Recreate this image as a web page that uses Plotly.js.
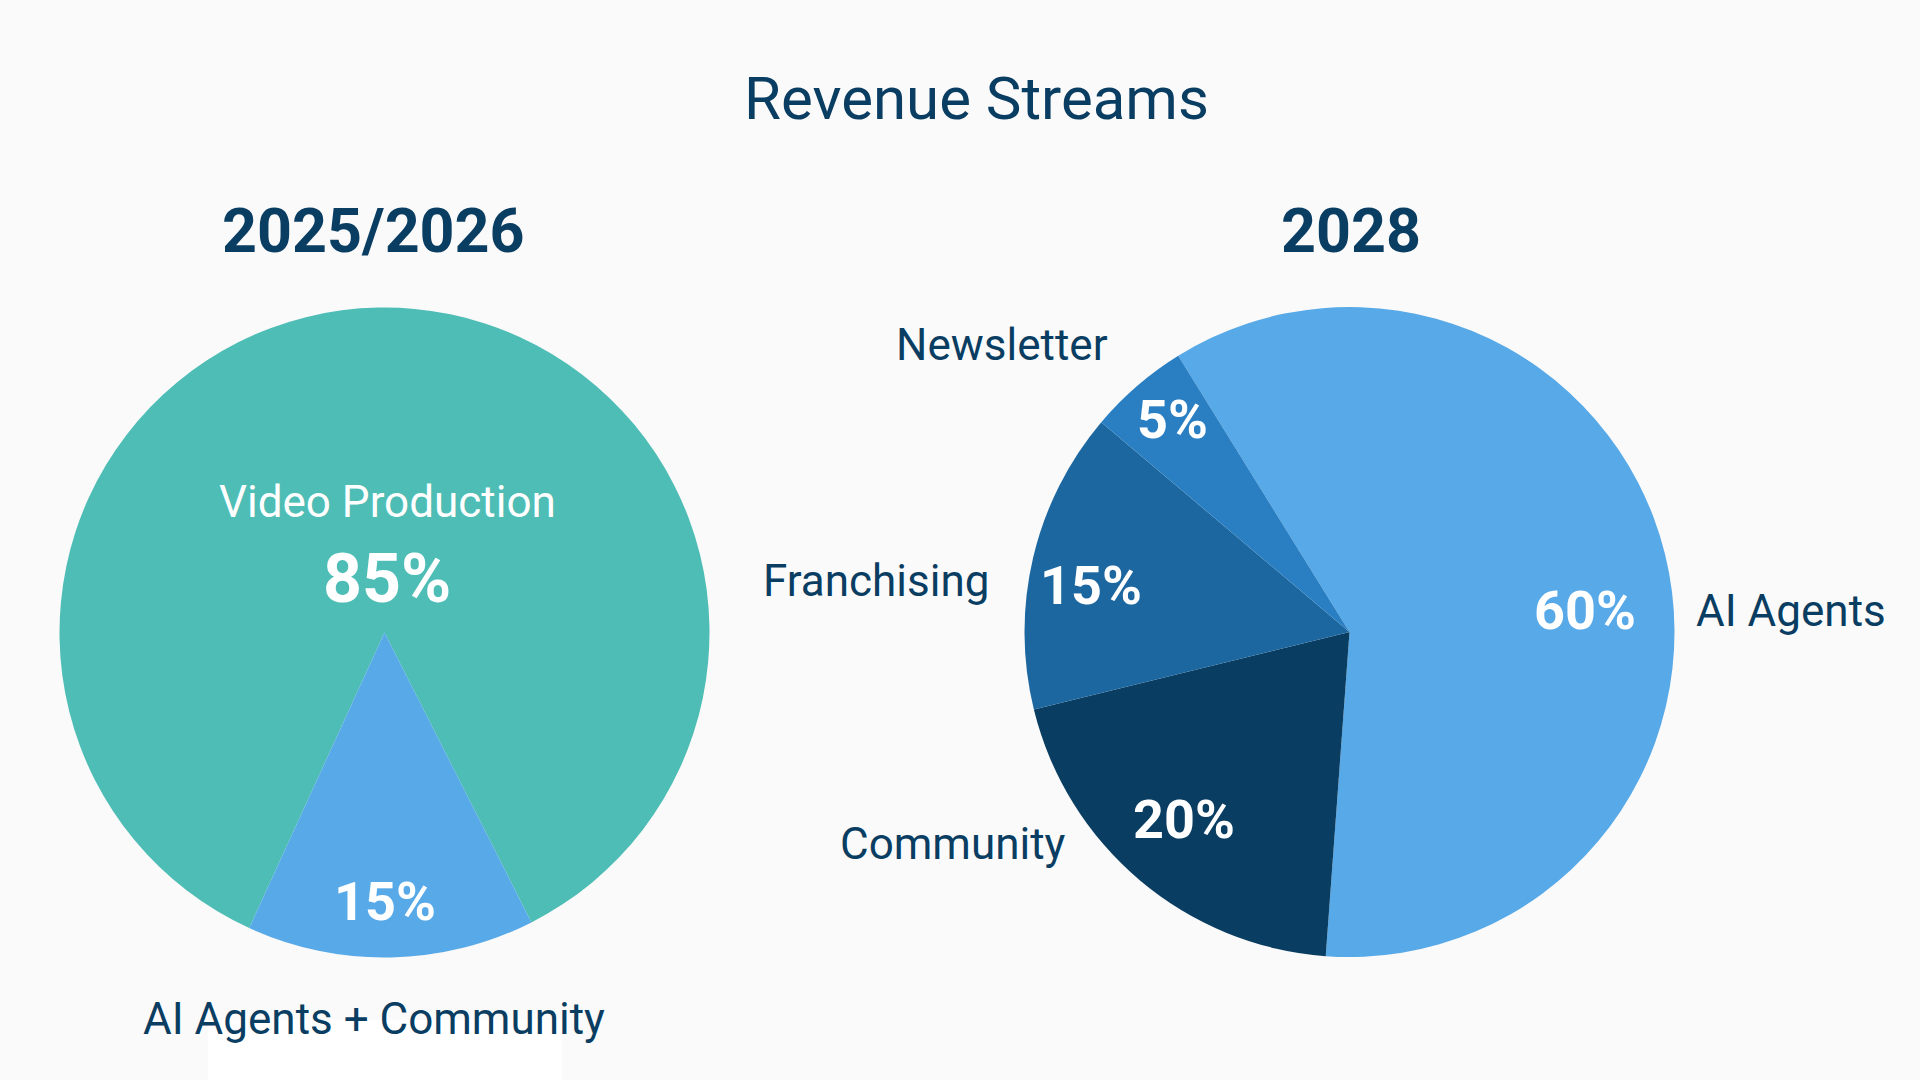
<!DOCTYPE html>
<html>
<head>
<meta charset="utf-8">
<script src="https://cdn.plot.ly/plotly-3.0.1.min.js"></script>
<style>
  html, body { margin: 0; padding: 0; background: #fafafa; }
  #chart { width: 1920px; height: 1080px; }
</style>
</head>
<body>
<div id="chart"></div>
<script>
// ---- data ----
const chartTitle = 'Revenue Streams';
const leftTitle = '2025/2026';
const rightTitle = '2028';

const leftLabels = ['Video Production', 'AI Agents + Community'];
// slice sizes as drawn in the picture (the small slice spans about 51 degrees)
const leftValues = [85.7, 14.3];
// percentages as printed on the picture
const leftPercentText = ['85%', '15%'];
const leftColors = ['#4DBDB5', '#58A9E8'];

const rightLabels = ['AI Agents', 'Community', 'Franchising', 'Newsletter'];
const rightValues = [60, 20, 15, 5];
const rightColors = ['#58A9E8', '#0A3D62', '#1C679F', '#2A7FC3'];

// ---- layout helpers ----
const W = 1920, H = 1080;
const px = x => x / W;
const py = y => 1 - y / H;
const dark = '#0A3D62';
const FONT = 'Roboto, "Noto Sans", sans-serif';

function pieDomain(cx, cy, r) {
  return { x: [px(cx - r), px(cx + r)], y: [py(cy + r), py(cy - r)] };
}

const traces = [
  {
    type: 'pie', labels: leftLabels, values: leftValues, sort: false,
    direction: 'clockwise', rotation: -155.4,
    marker: { colors: leftColors, line: { width: 0 } },
    textinfo: 'none', hoverinfo: 'skip', showlegend: false,
    domain: pieDomain(384.5, 632.5, 325)
  },
  {
    type: 'pie', labels: rightLabels, values: rightValues, sort: false,
    direction: 'clockwise', rotation: -31.8,
    marker: { colors: rightColors, line: { width: 0 } },
    textinfo: 'none', hoverinfo: 'skip', showlegend: false,
    domain: pieDomain(1349.5, 632, 325)
  }
];

function ann(text, x, y, size, color, bold, xanchor) {
  return {
    text: bold ? '<b>' + text + '</b>' : text,
    x: px(x), y: py(y), xref: 'paper', yref: 'paper',
    xanchor: xanchor || 'center', yanchor: 'middle',
    showarrow: false,
    font: { family: FONT, size: size, color: color }
  };
}
const pct = v => v + '%';

const annotations = [
  ann(leftTitle, 373, 231, 61, dark, true),
  ann(rightTitle, 1351, 231, 61, dark, true),
  // left pie
  ann(leftLabels[0], 387, 502, 44, '#ffffff', false),
  ann(leftPercentText[0], 387, 579, 68, '#ffffff', true),
  ann(leftPercentText[1], 384.5, 901, 54, '#ffffff', true),
  ann(leftLabels[1], 373.5, 1019, 44, dark, false),
  // right pie percents
  ann(pct(rightValues[0]), 1584.5, 610, 54, '#ffffff', true),
  ann(pct(rightValues[1]), 1184, 819, 54, '#ffffff', true),
  ann(pct(rightValues[2]), 1091, 585, 54, '#ffffff', true),
  ann(pct(rightValues[3]), 1172.5, 420, 54, '#ffffff', true),
  // right pie labels
  ann(rightLabels[0], 1791, 611, 44, dark, false),
  ann(rightLabels[1], 952.5, 844, 44, dark, false),
  ann(rightLabels[2], 876, 581, 44, dark, false),
  ann(rightLabels[3], 1002, 345, 44, dark, false)
];

const layout = {
  width: W, height: H,
  margin: { l: 0, r: 0, t: 0, b: 0 },
  paper_bgcolor: '#fafafa',
  plot_bgcolor: '#fafafa',
  showlegend: false,
  title: {
    text: chartTitle,
    x: px(976.5), xref: 'paper', xanchor: 'center',
    y: py(98), yref: 'paper', yanchor: 'middle',
    font: { family: FONT, size: 60, color: dark }
  },
  shapes: [
    { type: 'rect', xref: 'paper', yref: 'paper', layer: 'below',
      x0: px(208), x1: px(562), y0: py(1080), y1: py(1020),
      fillcolor: '#ffffff', line: { width: 0 } }
  ],
  annotations: annotations
};

Plotly.newPlot('chart', traces, layout, { staticPlot: true, displayModeBar: false });
</script>
</body>
</html>
